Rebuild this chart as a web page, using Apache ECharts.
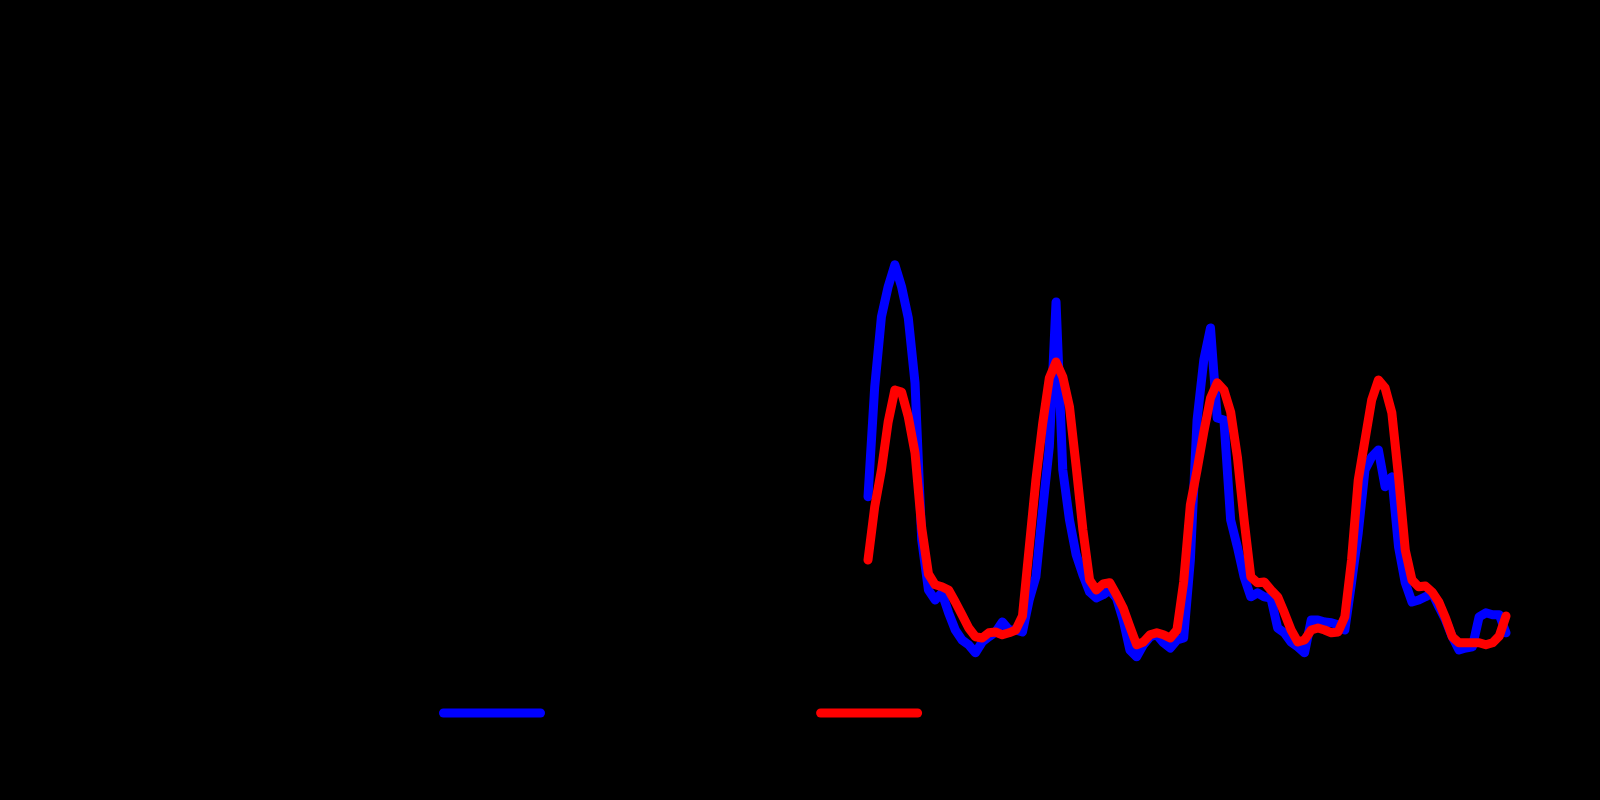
<!DOCTYPE html>
<html>
<head>
<meta charset="utf-8">
<title>Hourly series</title>
<script src="https://cdn.jsdelivr.net/npm/echarts@6/dist/echarts.min.js"></script>
<style>
  html, body { margin: 0; padding: 0; background: #000; }
  #chart { width: 1600px; height: 800px; }
</style>
</head>
<body>
<div id="chart"></div>
<script>
// hour index of each reading (4 days, hourly)
const hours = []
for (let h = 0; h < 96; h++) hours.push(h)

// values
const observed = [
  45.8, 73.3, 90.8, 98.3, 103.8, 98.3, 90.5, 74.3, 35, 22.5, 20, 21.8,
  16.8, 12.5, 10, 8.8, 6.8, 9.5, 10.8, 12, 14.5, 12.5, 12.5, 12,
  20, 25.8, 42.5, 58.3, 94.5, 52.5, 40, 31.3, 26.3, 22, 20.5, 21.3,
  22.5, 20.5, 15, 7.5, 5.8, 8.8, 10.8, 11.3, 9.3, 8, 10, 10.5,
  30, 65, 80, 88, 65.5, 65, 40, 33.3, 25.8, 20.8, 21.8, 20.8,
  20.5, 13, 11.8, 9.5, 8.3, 6.8, 15, 15, 14.5, 14.3, 13.8, 12.5,
  24.3, 36.8, 52.5, 55.8, 57.5, 48.3, 50.8, 33.3, 24.3, 19.5, 20, 20.8,
  21.8, 18.3, 15, 10.8, 7.5, 8, 8.3, 15.8, 16.8, 16.3, 16.3, 11.8
]
const predicted = [
  30, 43.3, 52.5, 64.5, 72.5, 72, 65.8, 56.8, 38, 26.5, 23.8, 23.3,
  22.5, 19.5, 16.3, 13, 10.8, 10.5, 11.8, 12, 11.3, 11.8, 12.5, 16,
  33, 50, 64, 75.5, 79.5, 75.8, 68.3, 53.3, 37.5, 25, 22.5, 24,
  24.3, 21.3, 18, 13.3, 8.8, 9.5, 11.3, 11.8, 11.3, 10.5, 12.5, 24.5,
  43.8, 52.5, 62, 70.5, 74.3, 72.5, 67, 55.8, 40, 25.8, 24.3, 24.5,
  22.5, 20.8, 16.8, 12.5, 9.5, 10, 12.5, 13, 12.5, 11.8, 12, 15.8,
  30, 50, 60, 70, 75, 73, 66.8, 50.8, 32.5, 25, 23.3, 23.5,
  22, 19.5, 15.5, 10.8, 9.3, 9.3, 9.3, 9.3, 8.8, 9.3, 11, 16
]
const seriesNames = ['Observed hourly values', 'Predicted hourly values']

const pill = 'path://M4.5,0 L101.5,0 A4.5,4.5 0 0 1 101.5,9 L4.5,9 A4.5,4.5 0 0 1 4.5,0 Z'

let myChart = echarts.init(document.getElementById('chart'))
let option = {
  backgroundColor: '#000',
  animation: false,
  legend: {
    left: 434,
    top: 698,
    itemWidth: 106,
    itemHeight: 9,
    itemGap: 56,
    icon: pill,
    textStyle: {
      color: '#000',
      fontSize: 20,
      width: 251,
      overflow: 'truncate'
    },
    data: seriesNames
  },
  grid: {
    left: 868,
    right: 94,
    top: 80,
    bottom: 120
  },
  xAxis: {
    type: 'value',
    min: 0,
    max: 95,
    axisLine: { lineStyle: { color: '#000' } },
    axisTick: { show: false },
    axisLabel: { color: '#000' },
    splitLine: { show: false }
  },
  yAxis: {
    type: 'value',
    min: 0,
    max: 150,
    axisLine: { show: false },
    axisTick: { show: false },
    axisLabel: { color: '#000' },
    splitLine: { show: false }
  },
  series: [
    {
      name: seriesNames[0],
      type: 'line',
      showSymbol: false,
      itemStyle: { color: '#0000ff' },
      lineStyle: { color: '#0000ff', width: 9, cap: 'round', join: 'round' },
      data: hours.map((h, i) => [h, observed[i]])
    },
    {
      name: seriesNames[1],
      type: 'line',
      showSymbol: false,
      itemStyle: { color: '#ff0000' },
      lineStyle: { color: '#ff0000', width: 9, cap: 'round', join: 'round' },
      data: hours.map((h, i) => [h, predicted[i]])
    }
  ]
}
myChart.setOption(option, true)
window.addEventListener('resize', () => { myChart.resize() })
</script>
</body>
</html>
